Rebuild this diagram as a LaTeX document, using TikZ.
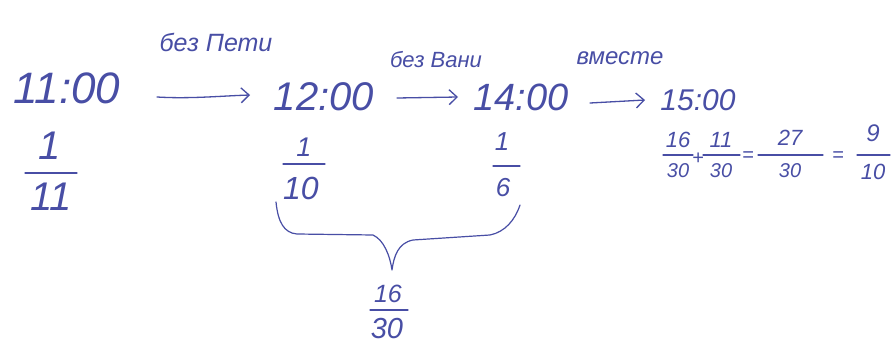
\documentclass[tikz,border=0pt]{standalone}
\usepackage{fontspec}
\setmainfont{Liberation Sans}
\usetikzlibrary{arrows.meta}
\definecolor{ink}{RGB}{72,78,165}
\begin{document}
\begin{tikzpicture}[x=1pt,y=-1pt,
  every node/.style={inner sep=0pt,text=ink},
  sz/.style={font=\fontsize{#1}{#1}\selectfont\itshape},
  arr/.style={draw=ink,line width=1.3pt,line cap=round,-{Straight Barb[length=8pt,width=15pt,line width=1.3pt]}},
  fbar/.style={draw=ink,line width=1.2pt,line cap=round},
  brace/.style={draw=ink,line width=1.2pt,line cap=round,line join=round}]
\useasboundingbox[fill=white] (0,0) rectangle (892,345);
% times
\node[sz=44] (t11) at (67,88) {11:00};
\node[sz=40] (t12) at (324,97) {12:00};
\node[sz=38] (t14) at (521,97) {14:00};
\node[sz=30] (t15) at (698,100) {15:00};
% labels
\node[sz=25] (l1) at (216,42) {без Пети};
\node[sz=22] (l2) at (436,60) {без Вани};
\node[sz=24] (l3) at (620,58) {вместе};
% arrows
\coordinate (a1s) at (157,97); \coordinate (a1e) at (250,95);
\coordinate (a2s) at (397,98); \coordinate (a2e) at (458,97);
\coordinate (a3s) at (590,103); \coordinate (a3e) at (645,100);
\draw[arr] (a1s) .. controls (190,99) and (220,96) .. (a1e);
\draw[arr] (a2s) -- (a2e);
\draw[arr] (a3s) -- (a3e);
% fraction 1/11
\node[sz=40] (n1) at (50,146) {1};
\node[sz=40] (d1) at (51,197) {11};
\draw[fbar] (25,173) -- (77,173);
% fraction 1/10
\node[sz=27] (n2) at (304,147) {1};
\node[sz=32] (d2) at (301,188) {10};
\draw[fbar] (283,164) -- (325,164);
% fraction 1/6
\node[sz=26] (n3) at (502,142) {1};
\node[sz=26] (d3) at (503,188) {6};
\draw[fbar] (493,166) -- (520,166);
% brace
\draw[brace] (276,202) .. controls (278,222) and (284,233) .. (297,234)
  -- (373,235) .. controls (384,240) and (390,256) .. (392,270)
  .. controls (394,256) and (398,243) .. (413,240)
  -- (490,235) .. controls (505,232) and (515,220) .. (520,205);
% fraction 16/30
\node[sz=25] (n4) at (388,294) {16};
\node[sz=29] (d4) at (387,329) {30};
\draw[fbar] (370,310) -- (408,310);
% equation
\node[sz=22] (e1n) at (678,140) {16};
\node[sz=20] (e1d) at (678,171) {30};
\draw[fbar] (663,155) -- (693,155);
\node[sz=20] (p1) at (698,159) {+};
\node[sz=22] (e2n) at (721,140) {11};
\node[sz=20] (e2d) at (721,171) {30};
\draw[fbar] (703,155) -- (740,155);
\node[sz=20] (q1) at (748,157) {=};
\node[sz=22] (e3n) at (790,138) {27};
\node[sz=20] (e3d) at (790,171) {30};
\draw[fbar] (758,155) -- (823,155);
\node[sz=20] (q2) at (838,157) {=};
\node[sz=24] (e4n) at (873,133) {9};
\node[sz=22] (e4d) at (873,172) {10};
\draw[fbar] (857,155) -- (890,155);
\end{tikzpicture}
\end{document}
